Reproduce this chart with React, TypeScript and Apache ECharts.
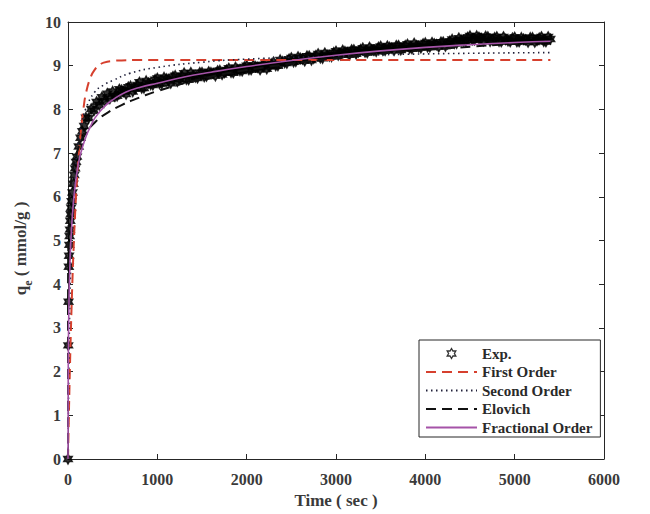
import React, { useEffect, useRef } from "react";
import * as echarts from "echarts";

const expTime = [
  0, 3, 6, 9, 12, 15, 18, 22, 26, 30, 35, 40, 50, 60, 70, 80, 90, 100, 120, 140, 160, 180, 200, 230, 260, 290, 320, 350, 380, 410, 440, 470,
  500, 550, 600, 650, 700, 750, 800, 850, 900, 950,
  1000, 1050, 1100, 1150, 1200, 1250, 1300, 1350, 1400, 1450,
  1500, 1550, 1600, 1650, 1700, 1750, 1800, 1850, 1900, 1950,
  2000, 2050, 2100, 2150, 2200, 2250, 2300, 2350, 2400, 2450,
  2500, 2550, 2600, 2650, 2700, 2750, 2800, 2850, 2900, 2950,
  3000, 3050, 3100, 3150, 3200, 3250, 3300, 3350, 3400, 3450,
  3500, 3550, 3600, 3650, 3700, 3750, 3800, 3850, 3900, 3950,
  4000, 4050, 4100, 4150, 4200, 4250, 4300, 4350, 4400, 4450,
  4500, 4550, 4600, 4650, 4700, 4750, 4800, 4850, 4900, 4950,
  5000, 5050, 5100, 5150, 5200, 5250, 5300, 5350, 5400,
];
const expValue = [
  0, 2.6, 3.6, 4.4, 4.65, 4.9, 5.1, 5.25, 5.45, 5.6, 5.75, 5.9, 6.1, 6.3, 6.5, 6.65, 6.8, 6.92, 7.15, 7.35, 7.5, 7.62, 7.81, 7.8, 8.01, 7.97, 8.17, 8.1, 8.28, 8.19, 8.36, 8.25,
  8.41, 8.31, 8.44, 8.35, 8.53, 8.47, 8.62, 8.49, 8.6, 8.56,
  8.71, 8.59, 8.7, 8.6, 8.77, 8.69, 8.83, 8.68, 8.78, 8.72,
  8.84, 8.76, 8.84, 8.77, 8.89, 8.84, 8.94, 8.84, 8.91, 8.88,
  9.0, 8.91, 8.98, 8.91, 9.02, 8.98, 9.08, 9.0, 9.09, 9.06,
  9.18, 9.1, 9.17, 9.11, 9.22, 9.17, 9.27, 9.17, 9.24, 9.21,
  9.33, 9.25, 9.32, 9.25, 9.36, 9.31, 9.4, 9.3, 9.37, 9.33,
  9.44, 9.35, 9.42, 9.35, 9.46, 9.4, 9.49, 9.39, 9.46, 9.41,
  9.52, 9.43, 9.5, 9.43, 9.54, 9.5, 9.6, 9.51, 9.59, 9.56,
  9.68, 9.59, 9.65, 9.57, 9.66, 9.59, 9.66, 9.55, 9.6, 9.55,
  9.65, 9.55, 9.61, 9.54, 9.64, 9.58, 9.66, 9.55, 9.61,
];
// in-between experimental readings (the record is dense)
const expTime2 = [
  525, 575, 625, 675, 725, 775, 825, 875, 925, 975,
  1025, 1075, 1125, 1175, 1225, 1275, 1325, 1375, 1425, 1475,
  1525, 1575, 1625, 1675, 1725, 1775, 1825, 1875, 1925, 1975,
  2025, 2075, 2125, 2175, 2225, 2275, 2325, 2375, 2425, 2475,
  2525, 2575, 2625, 2675, 2725, 2775, 2825, 2875, 2925, 2975,
  3025, 3075, 3125, 3175, 3225, 3275, 3325, 3375, 3425, 3475,
  3525, 3575, 3625, 3675, 3725, 3775, 3825, 3875, 3925, 3975,
  4025, 4075, 4125, 4175, 4225, 4275, 4325, 4375, 4425, 4475,
  4525, 4575, 4625, 4675, 4725, 4775, 4825, 4875, 4925, 4975,
  5025, 5075, 5125, 5175, 5225, 5275, 5325, 5375,
];
const expValue2 = [
  8.3, 8.46, 8.41, 8.51, 8.41, 8.56, 8.49, 8.65, 8.57, 8.68,
  8.59, 8.73, 8.66, 8.75, 8.64, 8.77, 8.69, 8.84, 8.74, 8.84,
  8.75, 8.86, 8.82, 8.88, 8.8, 8.9, 8.85, 8.96, 8.89, 8.97,
  8.91, 9.01, 8.96, 9.02, 8.93, 9.04, 9.0, 9.13, 9.07, 9.15,
  9.09, 9.2, 9.15, 9.22, 9.13, 9.23, 9.18, 9.29, 9.22, 9.3,
  9.24, 9.35, 9.3, 9.36, 9.27, 9.37, 9.31, 9.42, 9.35, 9.42,
  9.35, 9.45, 9.4, 9.46, 9.36, 9.46, 9.4, 9.51, 9.43, 9.5,
  9.43, 9.53, 9.48, 9.54, 9.45, 9.56, 9.51, 9.63, 9.57, 9.65,
  9.59, 9.68, 9.62, 9.67, 9.56, 9.64, 9.56, 9.66, 9.57, 9.63,
  9.55, 9.64, 9.59, 9.64, 9.54, 9.63, 9.56, 9.66,
];

// ---- First order fit ----
const firstTime = [0, 10, 20, 30, 40, 50, 60, 80, 100, 125, 150, 175, 200, 250, 300, 350, 400, 500, 600, 800, 5400];
const firstValue = [0, 1.03, 1.95, 2.76, 3.48, 4.12, 4.69, 5.63, 6.38, 7.09, 7.62, 8.05, 8.36, 8.72, 8.91, 9.01, 9.07, 9.11, 9.12, 9.13, 9.13];

// ---- Second order fit ----
const secondTime = [0, 10, 20, 30, 40, 50, 70, 100, 150, 200, 300, 400, 500, 700, 1000, 1500, 2000, 3000, 4000, 5400];
const secondValue = [0, 2.16, 3.51, 4.43, 5.11, 5.62, 6.34, 7.02, 7.66, 8.02, 8.4, 8.56, 8.66, 8.83, 8.96, 9.08, 9.15, 9.22, 9.27, 9.3];

// ---- Elovich fit ----
const elovichTime = [0, 0.01, 0.1, 1, 5, 10, 20, 50, 100, 200, 300, 400, 600, 800, 1000, 1500, 2000, 3000, 4000, 5400];
const elovichValue = [0, 1.27, 2.65, 4.1, 5.12, 5.56, 6.0, 6.58, 7.02, 7.46, 7.7, 7.87, 8.1, 8.27, 8.42, 8.7, 8.9, 9.17, 9.36, 9.55];

// ---- Fractional order fit ----
const fracTime = [0, 2, 5, 10, 20, 30, 45, 60, 80, 100, 125, 150, 200, 250, 300, 400, 500, 650, 800, 1000, 1300, 1600, 2000, 2500, 3000, 3500, 4000, 4500, 5000, 5400];
const fracValue = [0, 1.8, 2.7, 3.5, 4.35, 4.9, 5.45, 5.85, 6.25, 6.55, 6.85, 7.05, 7.37, 7.6, 7.8, 8.05, 8.22, 8.4, 8.5, 8.6, 8.74, 8.85, 8.98, 9.12, 9.24, 9.34, 9.42, 9.48, 9.53, 9.56];

const seriesNames = ["Exp.", "First Order", "Second Order", "Elovich", "Fractional Order"];

const HEXAGRAM =
  "path://M10,0 L12.887,5 L18.66,5 L15.77,10 L18.66,15 L12.887,15 L10,20 L7.113,15 L1.34,15 L4.23,10 L1.34,5 L7.113,5 Z";

const FONT = "'Liberation Serif', 'Times New Roman', serif";

const zip = (a: number[], b: number[]) => a.map((v, i) => [v, b[i]]);

export default function App() {
  const ref = useRef<HTMLDivElement>(null);
  useEffect(() => {
    if (!ref.current) return;
    const chart = echarts.init(ref.current, undefined, { renderer: "svg" });
    const axisLineStyle = { color: "#262626", width: 1 };
    const labelStyle = {
      fontFamily: FONT,
      fontWeight: "bold" as const,
      fontSize: 16,
      color: "#3a3a3a",
    };
    const hidden = { opacity: 0 };
    chart.setOption({
      animation: false,
      backgroundColor: "#ffffff",
      grid: { left: 68, right: 46, top: 22, bottom: 48, containLabel: false },
      legend: {
        orient: "vertical",
        left: 419,
        top: 340,
        width: 182,
        padding: [6, 8, 2, 6],
        itemWidth: 51,
        itemHeight: 10,
        itemGap: 3.5,
        borderColor: "#262626",
        borderWidth: 1,
        borderRadius: 0,
        backgroundColor: "#ffffff",
        textStyle: {
          fontFamily: FONT,
          fontWeight: "bold",
          fontSize: 15,
          color: "#2a2a2a",
          lineHeight: 14,
        },
        data: [
          {
            name: seriesNames[0],
            icon: HEXAGRAM,
            itemStyle: { color: "#ffffff", borderColor: "#000000", borderWidth: 1.3 },
          },
          { name: seriesNames[1], itemStyle: hidden },
          { name: seriesNames[2], itemStyle: hidden },
          { name: seriesNames[3], itemStyle: hidden },
          { name: seriesNames[4], itemStyle: hidden },
        ],
      },
      xAxis: [
        {
          type: "value",
          min: 0,
          max: 6000,
          interval: 1000,
          position: "bottom",
          name: "Time ( sec )",
          nameLocation: "middle",
          nameGap: 33,
          nameTextStyle: { fontFamily: FONT, fontWeight: "bold", fontSize: 17, color: "#3a3a3a" },
          axisLine: { show: true, onZero: false, lineStyle: axisLineStyle },
          axisTick: { show: true, inside: true, length: 5, lineStyle: axisLineStyle },
          axisLabel: { ...labelStyle, margin: 12, formatter: (v: number) => String(v) },
          splitLine: { show: false },
        },
        {
          type: "value",
          min: 0,
          max: 6000,
          interval: 1000,
          position: "top",
          axisLine: { show: true, onZero: false, lineStyle: axisLineStyle },
          axisTick: { show: true, inside: true, length: 5, lineStyle: axisLineStyle },
          axisLabel: { show: false },
          splitLine: { show: false },
        },
      ],
      yAxis: [
        {
          type: "value",
          min: 0,
          max: 10,
          interval: 1,
          position: "left",
          name: "{q|q}{s|e}{n| ( mmol/g )}",
          nameLocation: "middle",
          nameGap: 26,
          nameRotate: 90,
          nameTextStyle: {
            rich: {
              q: { fontFamily: FONT, fontWeight: "bold", fontSize: 17, color: "#3a3a3a", lineHeight: 22, verticalAlign: "top" },
              s: { fontFamily: FONT, fontWeight: "bold", fontSize: 12, color: "#3a3a3a", lineHeight: 12, verticalAlign: "bottom" },
              n: { fontFamily: FONT, fontWeight: "bold", fontSize: 17, color: "#3a3a3a", lineHeight: 22, verticalAlign: "top", padding: [0, 16, 0, 0] },
            },
          },
          axisLine: { show: true, onZero: false, lineStyle: axisLineStyle },
          axisTick: { show: true, inside: true, length: 5, lineStyle: axisLineStyle },
          axisLabel: { ...labelStyle, margin: 7 },
          splitLine: { show: false },
        },
        {
          type: "value",
          min: 0,
          max: 10,
          interval: 1,
          position: "right",
          axisLine: { show: true, onZero: false, lineStyle: axisLineStyle },
          axisTick: { show: true, inside: true, length: 5, lineStyle: axisLineStyle },
          axisLabel: { show: false },
          splitLine: { show: false },
        },
      ],
      series: [
        {
          name: seriesNames[0],
          type: "scatter",
          data: [...zip(expTime, expValue), ...zip(expTime2, expValue2)],
          symbol: HEXAGRAM,
          symbolSize: 10,
          symbolKeepAspect: true,
          itemStyle: { color: "#000000", borderColor: "#000000", borderWidth: 1.4 },
          z: 2,
        },
        {
          name: seriesNames[1],
          type: "line",
          data: zip(firstTime, firstValue),
          smooth: true,
          symbol: "none",
          color: "#d6402e",
          lineStyle: { color: "#d6402e", width: 2, type: [10, 6] },
          z: 3,
        },
        {
          name: seriesNames[2],
          type: "line",
          data: zip(secondTime, secondValue),
          smooth: true,
          symbol: "none",
          color: "#20203a",
          lineStyle: { color: "#20203a", width: 1.6, type: [1.5, 3.5] },
          z: 3,
        },
        {
          name: seriesNames[3],
          type: "line",
          data: zip(elovichTime, elovichValue),
          smooth: true,
          symbol: "none",
          color: "#111111",
          lineStyle: { color: "#111111", width: 2, type: [10, 6] },
          z: 3,
        },
        {
          name: seriesNames[4],
          type: "line",
          data: zip(fracTime, fracValue),
          smooth: true,
          symbol: "none",
          color: "#a553a8",
          lineStyle: { color: "#a553a8", width: 1.6 },
          z: 4,
        },
      ],
    });
    return () => chart.dispose();
  }, []);
  return <div ref={ref} style={{ width: 650, height: 514, position: "absolute", left: 0, top: 0 }} />;
}
